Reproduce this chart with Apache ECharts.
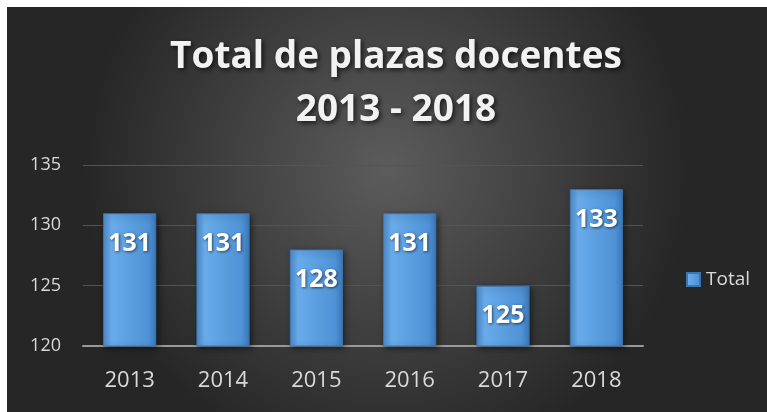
<!DOCTYPE html>
<html>
<head>
<meta charset="utf-8">
<script src="https://cdn.jsdelivr.net/npm/echarts@6/dist/echarts.min.js"></script>
<style>
  html, body { margin: 0; padding: 0; background: #fff; }
  #chart { position: absolute; left: 7px; top: 7px; width: 760px; height: 405px; }
</style>
</head>
<body>
<div id="chart"></div>
<script>
// datos
const years = ['2013', '2014', '2015', '2016', '2017', '2018'];
const totals = [131, 131, 128, 131, 125, 133];
const yTicks = [120, 125, 130, 135];

const chart = echarts.init(document.getElementById('chart'));

const option = {
  backgroundColor: new echarts.graphic.RadialGradient(0.5, 0.4, 0.75, [
    { offset: 0, color: '#5c5c5c' },
    { offset: 1, color: '#262626' }
  ]),
  title: {
    text: 'Total de plazas docentes\n2013 - 2018',
    left: 384,
    top: 19,
    textAlign: 'center',
    textStyle: {
      fontFamily: 'Open Sans',
      fontWeight: 'bold',
      fontSize: 37,
      lineHeight: 53,
      color: '#f2f2f2',
      textShadowColor: 'rgba(0,0,0,0.7)',
      textShadowBlur: 5,
      textShadowOffsetX: 2,
      textShadowOffsetY: 2
    }
  },
  legend: {
    left: 674,
    top: 258,
    orient: 'vertical',
    itemWidth: 13,
    itemHeight: 13,
    itemGap: 6,
    icon: 'rect',
    textStyle: { color: '#d9d9d9', fontSize: 19, fontFamily: 'Open Sans', padding: [0, 0, 0, 1] },
    data: ['Total']
  },
  grid: { left: 76, right: 124, top: 158, bottom: 66 },
  xAxis: {
    type: 'category',
    data: years,
    axisTick: { show: false },
    axisLine: { lineStyle: { color: '#9a9a9a', width: 2 } },
    axisLabel: { color: '#d9d9d9', fontSize: 22, fontFamily: 'Open Sans', margin: 24 }
  },
  yAxis: {
    type: 'value',
    min: yTicks[0],
    max: yTicks[yTicks.length - 1],
    interval: 5,
    axisLine: { show: false },
    axisTick: { show: false },
    splitLine: { lineStyle: { color: '#545454', width: 1 } },
    axisLabel: { color: '#d9d9d9', fontSize: 18, fontFamily: 'Open Sans', margin: 22 }
  },
  series: [
    {
      name: 'Total',
      type: 'bar',
      data: totals,
      barCategoryGap: '43%',
      itemStyle: {
        color: new echarts.graphic.LinearGradient(0, 0, 1, 0, [
          { offset: 0, color: '#4f8fd0' },
          { offset: 0.15, color: '#6aacec' },
          { offset: 0.5, color: '#5b9fe0' },
          { offset: 0.85, color: '#4f92d6' },
          { offset: 1, color: '#3d7cbd' }
        ]),
        borderColor: '#3a75b3',
        borderWidth: 1,
        shadowColor: 'rgba(0,0,0,0.5)',
        shadowBlur: 6,
        shadowOffsetX: 2,
        shadowOffsetY: 2
      },
      label: {
        show: true,
        position: 'insideTop',
        distance: 18,
        color: '#ffffff',
        fontSize: 25,
        fontWeight: 'bold',
        fontFamily: 'Open Sans',
        textShadowColor: 'rgba(0,0,0,0.6)',
        textShadowBlur: 3,
        textShadowOffsetX: 1,
        textShadowOffsetY: 1
      }
    }
  ]
};

chart.setOption(option);
</script>
</body>
</html>
